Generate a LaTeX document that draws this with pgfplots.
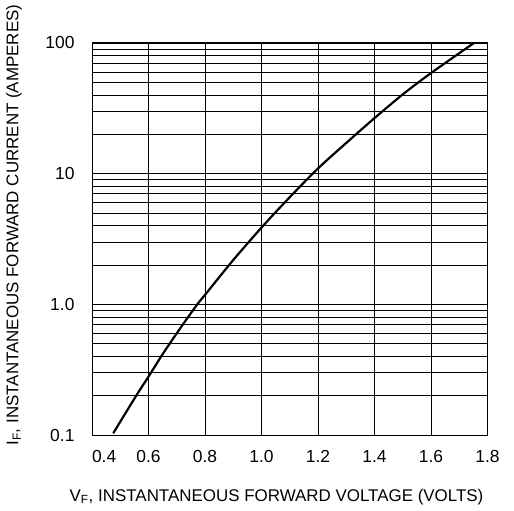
\documentclass[border=0pt]{standalone}
\usepackage{fontspec}
\setmainfont{Liberation Sans}
\usepackage{pgfplots}
\pgfplotsset{compat=1.18}
\begin{document}
\begin{tikzpicture}[x=1bp,y=1bp]
\useasboundingbox (0,0) rectangle (514,511);
\begin{axis}[
  at={(92bp,76bp)}, anchor=south west,
  scale only axis, width=395.5bp, height=392bp,
  xmin=0.4, xmax=1.8, ymode=log, ymin=0.1, ymax=100,
  xtick={0.4,0.6,0.8,1.0,1.2,1.4,1.6,1.8},
  xticklabels={\makebox[0pt][l]{0.4},0.6,0.8,1.0,1.2,1.4,1.6,1.8},
  ytick={0.1,1,10,100}, yticklabels={0.1,1.0,10,100},
  /pgf/number format/assume math mode=true,
  major tick length=0pt, minor tick length=0pt,
  grid=both,
  major grid style={black, line width=0.8bp},
  minor grid style={black, line width=0.8bp},
  axis line style={black, line width=1bp},
  tick label style={font=\fontsize{17.5}{21}\selectfont},
  xticklabel style={yshift=-12bp},
  yticklabel style={xshift=-14bp},
  clip=false,
]
\addplot[black, line width=2.2bp, smooth] coordinates {
(0.475,0.1030) (0.558,0.2023) (0.601,0.2818) (0.652,0.4217) (0.712,0.6546)
(0.771,0.9886) (0.801,1.189) (0.900,2.183) (1.001,3.890) (1.089,6.237)
(1.2,10.96) (1.313,18.20) (1.4,26.61) (1.502,40.74) (1.6,58.88) (1.752,100)
};
\end{axis}
\node[font=\fontsize{17}{20}\selectfont] at (276.5,14) {V\textsubscript{F}, INSTANTANEOUS FORWARD VOLTAGE (VOLTS)};
\node[font=\fontsize{17}{20}\selectfont, rotate=90] at (14,286) {I\textsubscript{F}, INSTANTANEOUS FORWARD CURRENT (AMPERES)};
\end{tikzpicture}
\end{document}
